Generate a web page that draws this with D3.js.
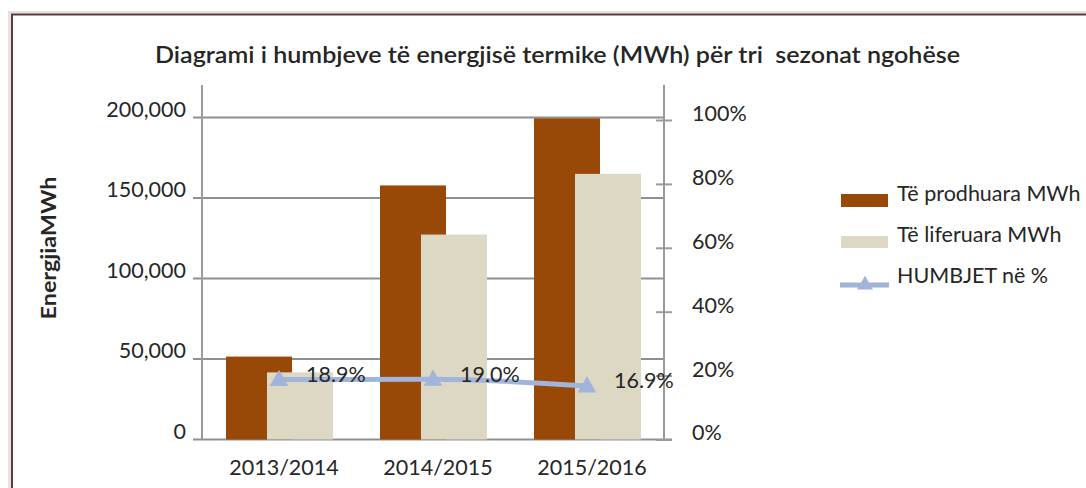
<!DOCTYPE html>
<html><head><meta charset="utf-8">
<script src="https://cdn.jsdelivr.net/npm/d3@7/dist/d3.min.js"></script>
<style>
html,body{margin:0;padding:0;background:#fff;overflow:hidden}
text{font-family:Lato,"Open Sans",sans-serif;fill:#262626}
</style></head>
<body><svg id="c" width="1086" height="488"></svg>
<script>
const categories = ["2013/2014","2014/2015","2015/2016"];
const produced = [51500, 157800, 199500];
const delivered = [41700, 127300, 165000];
const losses = [0.189, 0.190, 0.169];
const lossLabels = ["18.9%","19.0%","16.9%"];
const leftTicks = [0, 50000, 100000, 150000, 200000];
const rightTicks = [0, 0.2, 0.4, 0.6, 0.8, 1.0];
const seriesNames = ["Të prodhuara MWh","Të liferuara MWh","HUMBJET në %"];
const titleText = "Diagrami i humbjeve të energjisë termike (MWh) për tri  sezonat ngohëse";
const yTitle = "EnergjiaMWh";

const C_BROWN = "#984807", C_BEIGE = "#DCD8C3", C_LINE = "#A1B4D9", C_GRID = "#8f8f8f";

const svg = d3.select("#c");

// frame
svg.append("rect").attr("x",10).attr("y",13).attr("width",1200).attr("height",600)
  .attr("fill","none").attr("stroke","#f3dcdc").attr("stroke-width",4);
svg.append("rect").attr("x",12).attr("y",14.5).attr("width",1200).attr("height",600)
  .attr("fill","none").attr("stroke","#4e4242").attr("stroke-width",2);

const x = d3.scaleBand().domain(categories).range([202, 664]);
const y = d3.scaleLinear().domain([0, 200000]).range([439.5, 117.5]);
const y2 = d3.scaleLinear().domain([0, 1]).range([440, 120.5]);

// title
svg.append("text").attr("x",557.5).attr("y",63).attr("text-anchor","middle")
  .attr("font-size",22).attr("font-weight",600).style("white-space","pre")
  .attr("xml:space","preserve")
  .attr("textLength",805).attr("lengthAdjust","spacingAndGlyphs").text(titleText);

// y title
svg.append("text").attr("transform","translate(56,248) rotate(-90)")
  .attr("text-anchor","middle").attr("font-size",20).attr("font-weight",700)
  .attr("textLength",143).attr("lengthAdjust","spacingAndGlyphs").text(yTitle);

// gridlines (left axis)
const gl = svg.append("g");
gl.selectAll("line").data(leftTicks).join("line")
  .attr("x1",193).attr("x2",d=> d===0 ? 672 : 664)
  .attr("y1",d=>y(d)).attr("y2",d=>y(d))
  .attr("stroke",C_GRID).attr("stroke-width",2);
// axes lines
svg.append("line").attr("x1",202).attr("x2",202).attr("y1",85).attr("y2",y(0))
  .attr("stroke","#9a9a9a").attr("stroke-width",2);
svg.append("line").attr("x1",664).attr("x2",664).attr("y1",85).attr("y2",y2(0))
  .attr("stroke","#9a9a9a").attr("stroke-width",2);
// right ticks
svg.append("g").selectAll("line").data(rightTicks).join("line")
  .attr("x1",656).attr("x2",672).attr("y1",d=>y2(d)).attr("y2",d=>y2(d))
  .attr("stroke","#9a9a9a").attr("stroke-width",2);

// left tick labels
svg.append("g").selectAll("text").data(leftTicks).join("text")
  .attr("x",186).attr("y",d=>y(d)-6).attr("dominant-baseline","middle")
  .attr("text-anchor","end").attr("font-size",21.5)
  .text(d=>d3.format(",")(d));
// right tick labels
svg.append("g").selectAll("text").data(rightTicks).join("text")
  .attr("x",692).attr("y",d=>y2(d)-5).attr("dominant-baseline","middle")
  .attr("font-size",21.5).text(d=>d3.format(".0%")(d));
// x labels
svg.append("g").selectAll("text").data(categories).join("text")
  .attr("x",d=>x(d)+x.bandwidth()/2+5).attr("y",470).attr("dominant-baseline","middle")
  .attr("text-anchor","middle").attr("font-size",21.5).text(d=>d);

// bars
const bw = 66;
svg.append("g").selectAll("rect").data(categories).join("rect")
  .attr("x",d=>x(d)+x.bandwidth()/2-53).attr("width",bw)
  .attr("y",(d,i)=>y(produced[i])).attr("height",(d,i)=>y(0)-y(produced[i]))
  .attr("fill",C_BROWN);
svg.append("g").selectAll("rect").data(categories).join("rect")
  .attr("x",d=>x(d)+x.bandwidth()/2-12).attr("width",bw)
  .attr("y",(d,i)=>y(delivered[i])).attr("height",(d,i)=>y(0)-y(delivered[i]))
  .attr("fill",C_BEIGE);

// line
const pts = categories.map((c,i)=>[x(c)+x.bandwidth()/2, y2(losses[i])]);
svg.append("path").datum(pts).attr("d",d3.line().curve(d3.curveMonotoneX))
  .attr("fill","none").attr("stroke",C_LINE).attr("stroke-width",5);
svg.append("g").selectAll("path").data(pts).join("path")
  .attr("transform",d=>`translate(${d[0]},${d[1]+1})`)
  .attr("d",d3.symbol(d3.symbolTriangle,150)).attr("fill",C_LINE);
// data labels
svg.append("g").selectAll("text").data(pts).join("text")
  .attr("x",d=>d[0]+27).attr("y",d=>d[1]-3).attr("dominant-baseline","middle")
  .attr("font-size",21.5).text((d,i)=>lossLabels[i]);

// legend
const lg = svg.append("g");
lg.append("rect").attr("x",841).attr("y",194).attr("width",47).attr("height",13).attr("fill",C_BROWN);
lg.append("rect").attr("x",841).attr("y",236).attr("width",47).attr("height",12).attr("fill",C_BEIGE);
lg.append("line").attr("x1",840).attr("x2",889).attr("y1",285).attr("y2",285)
  .attr("stroke",C_LINE).attr("stroke-width",5);
lg.append("path").attr("transform","translate(865,285)")
  .attr("d",d3.symbol(d3.symbolTriangle,110)).attr("fill",C_LINE);
lg.selectAll("text").data(seriesNames).join("text")
  .attr("x",897).attr("y",(d,i)=>[196,237,278][i]).attr("dominant-baseline","middle")
  .attr("font-size",21.5).text(d=>d);
</script></body></html>
